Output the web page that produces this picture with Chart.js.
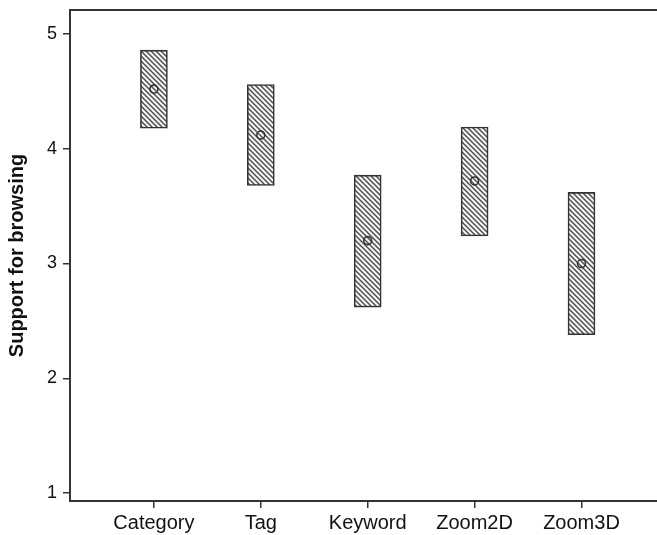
<!DOCTYPE html>
<html>
<head>
<meta charset="utf-8">
<script src="https://cdn.jsdelivr.net/npm/chart.js@4/dist/chart.umd.min.js"></script>
<style>
  body { margin: 0; background: #fff; }
  #wrap { width: 657px; height: 535px; }
</style>
</head>
<body>
<div id="wrap"><canvas id="myChart"></canvas></div>
<script>
const labels = ['Category', 'Tag', 'Keyword', 'Zoom2D', 'Zoom3D'];
const lowValues = [4.18, 3.68, 2.62, 3.24, 2.38];
const highValues = [4.86, 4.56, 3.77, 4.19, 3.62];
const meanValues = [4.52, 4.12, 3.20, 3.72, 3.00];
const yTicks = [1, 2, 3, 4, 5];

// diagonal hatch fill for the boxes
function makeHatch() {
    const c = document.createElement('canvas');
    c.width = 5; c.height = 5;
    const g = c.getContext('2d');
    g.fillStyle = '#f4f4f4';
    g.fillRect(0, 0, 5, 5);
    g.strokeStyle = '#4a4a4a';
    g.lineWidth = 1.4;
    g.beginPath();
    g.moveTo(-1, -1); g.lineTo(6, 6);
    g.moveTo(-1, 4); g.lineTo(1, 6);
    g.moveTo(4, -1); g.lineTo(6, 1);
    g.stroke();
    return g.createPattern(c, 'repeat');
}

const ctx = document.getElementById('myChart').getContext('2d');
const hatch = makeHatch();

// top frame line, and carry the frame out to the canvas edge
const frameLines = {
    id: 'frameLines',
    afterDraw(chart) {
        const a = chart.chartArea;
        const c = chart.ctx;
        c.save();
        c.strokeStyle = '#333';
        c.lineWidth = 2;
        c.beginPath();
        c.moveTo(a.left, a.top);
        c.lineTo(chart.width, a.top);
        c.moveTo(a.right - 1, a.bottom);
        c.lineTo(chart.width, a.bottom);
        c.stroke();
        c.restore();
    }
};

const myChart = new Chart(ctx, {
    type: 'bar',
    data: {
        datasets: [{
            label: 'range',
            order: 1,
            data: labels.map((l, i) => ({ x: i, y: [lowValues[i], highValues[i]] })),
            backgroundColor: hatch,
            borderColor: '#333',
            borderWidth: 1.6,
            borderSkipped: false,
            barThickness: 27
        }, {
            type: 'scatter',
            label: 'mean',
            order: 0,
            data: labels.map((l, i) => ({ x: i, y: meanValues[i] })),
            pointStyle: 'circle',
            pointRadius: 4,
            pointBorderWidth: 1.6,
            pointBorderColor: '#333',
            pointBackgroundColor: 'rgba(255,255,255,0)'
        }]
    },
    options: {
        responsive: true,
        maintainAspectRatio: false,
        animation: false,
        layout: { padding: { top: 10, right: 0, left: 0, bottom: 0 } },
        plugins: { legend: { display: false }, tooltip: { enabled: false } },
        scales: {
            x: {
                type: 'linear',
                offset: false,
                min: -0.785,
                max: 4.654,
                afterBuildTicks: axis => { axis.ticks = labels.map((l, i) => ({ value: i })); },
                afterFit: axis => { axis.height = 34; axis.paddingLeft = 0; axis.paddingRight = 0; },
                grid: { offset: false, drawOnChartArea: false, drawTicks: true, tickLength: 7, color: '#333', lineWidth: 1.5 },
                border: { color: '#333', width: 2 },
                ticks: {
                    callback: v => labels[v],
                    color: '#111',
                    padding: 3,
                    maxRotation: 0,
                    autoSkip: false,
                    font: { family: 'Liberation Sans, Arial, sans-serif', size: 20 }
                }
            },
            y: {
                min: 0.93,
                max: 5.21,
                afterBuildTicks: axis => { axis.ticks = yTicks.map(v => ({ value: v })); },
                afterFit: axis => { axis.width = 70; axis.paddingTop = 0; axis.paddingBottom = 0; },
                grid: { drawOnChartArea: false, drawTicks: true, tickLength: 7, color: '#333', lineWidth: 1.5 },
                border: { color: '#333', width: 2 },
                ticks: {
                    color: '#111',
                    padding: 6,
                    font: { family: 'Liberation Sans, Arial, sans-serif', size: 18 }
                },
                title: {
                    display: true,
                    text: 'Support for browsing',
                    color: '#111',
                    padding: { top: 5, bottom: 0 },
                    font: { family: 'Liberation Sans, Arial, sans-serif', size: 20, weight: 'bold' }
                }
            }
        }
    },
    plugins: [frameLines]
});
</script>
</body>
</html>
